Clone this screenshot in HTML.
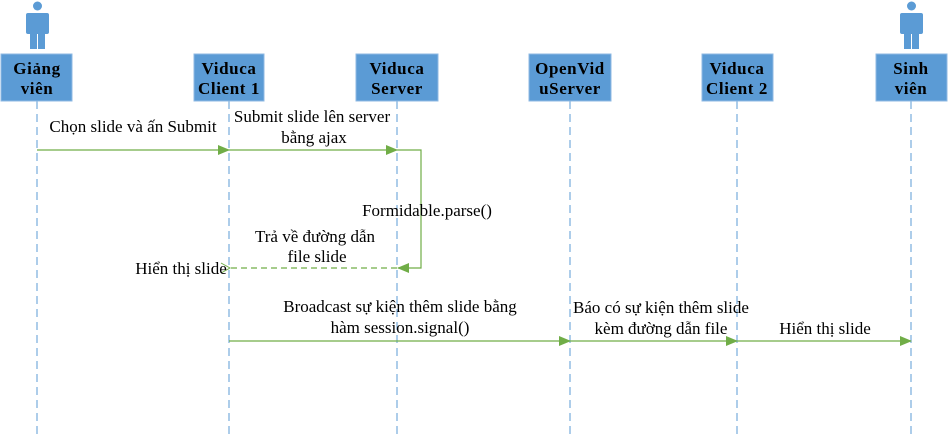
<!DOCTYPE html>
<html><head><meta charset="utf-8"><style>
html,body{margin:0;padding:0;background:#fff;}
svg{display:block;}
text{font-family:"Liberation Serif","DejaVu Serif",serif;font-size:17px;fill:#000;}
text.b{font-weight:bold;font-size:17px;letter-spacing:0.6px;}
</style></head><body>
<svg width="949" height="438" viewBox="0 0 949 438" xmlns="http://www.w3.org/2000/svg">
<defs>
<marker id="a" markerWidth="12" markerHeight="12" refX="11" refY="5" orient="auto" markerUnits="userSpaceOnUse"><path d="M0,0 L12,5 L0,10 z" fill="#70ad47"/></marker>
<marker id="o" markerWidth="12" markerHeight="12" refX="1" refY="5" orient="auto" markerUnits="userSpaceOnUse"><path d="M10,0 L1,5 L10,10" fill="none" stroke="#70ad47" stroke-width="1"/></marker>
<g id="p" fill="#5b9bd5"><circle cx="0.5" cy="6" r="4.5"/><rect x="-11" y="13" width="23" height="21" rx="2"/><rect x="-7" y="30" width="7" height="19"/><rect x="1" y="30" width="7" height="19"/></g>
</defs>
<g stroke="#5b9bd5" stroke-width="1" stroke-dasharray="8,5">
<line x1="37" y1="101" x2="37" y2="438"/><line x1="229" y1="101" x2="229" y2="438"/>
<line x1="397" y1="101" x2="397" y2="438"/><line x1="570" y1="101" x2="570" y2="438"/>
<line x1="737" y1="101" x2="737" y2="438"/><line x1="911" y1="101" x2="911" y2="438"/>
</g>
<use href="#p" x="37" y="0"/><use href="#p" x="911" y="0"/>
<g fill="#5b9bd5" stroke="#8fb9e3" stroke-width="1">
<rect x="1" y="54" width="71" height="47"/><rect x="194" y="54" width="70" height="47"/>
<rect x="356" y="54" width="82" height="47"/><rect x="529" y="54" width="82" height="47"/>
<rect x="702" y="54" width="71" height="47"/><rect x="876" y="54" width="71" height="47"/>
</g>
<g text-anchor="middle">
<text class="b" x="37" y="74">Giảng</text><text class="b" x="37" y="94">viên</text>
<text class="b" x="229" y="74">Viduca</text><text class="b" x="229" y="94">Client 1</text>
<text class="b" x="397" y="74">Viduca</text><text class="b" x="397" y="94">Server</text>
<text class="b" x="570" y="74">OpenVid</text><text class="b" x="570" y="94">uServer</text>
<text class="b" x="737" y="74">Viduca</text><text class="b" x="737" y="94">Client 2</text>
<text class="b" x="911" y="74">Sinh</text><text class="b" x="911" y="94">viên</text>
</g>
<g stroke="#70ad47" stroke-width="1.2" fill="none">
<line x1="37" y1="150" x2="229" y2="150" marker-end="url(#a)"/>
<line x1="229" y1="150" x2="397" y2="150" marker-end="url(#a)"/>
<polyline points="397,150 421,150 421,268 398,268" marker-end="url(#a)"/>
<line x1="397" y1="268" x2="230" y2="268" stroke-dasharray="6,4" marker-end="url(#o)"/>
<line x1="229" y1="341" x2="570" y2="341" marker-end="url(#a)"/>
<line x1="570" y1="341" x2="737" y2="341" marker-end="url(#a)"/>
<line x1="737" y1="341" x2="911" y2="341" marker-end="url(#a)"/>
</g>
<g text-anchor="middle">
<text x="133" y="132">Chọn slide và ấn Submit</text>
<text x="312" y="122">Submit slide lên server</text>
<text x="314" y="143">bằng ajax</text>
<text x="427" y="216">Formidable.parse()</text>
<text x="315" y="242">Trả về đường dẫn</text>
<text x="317" y="262">file slide</text>
<text x="181" y="274">Hiển thị slide</text>
<text x="400" y="312">Broadcast sự kiện thêm slide bằng</text>
<text x="400" y="333">hàm session.signal()</text>
<text x="661" y="313">Báo có sự kiện thêm slide</text>
<text x="661" y="334">kèm đường dẫn file</text>
<text x="825" y="334">Hiển thị slide</text>
</g>
</svg>
</body></html>
